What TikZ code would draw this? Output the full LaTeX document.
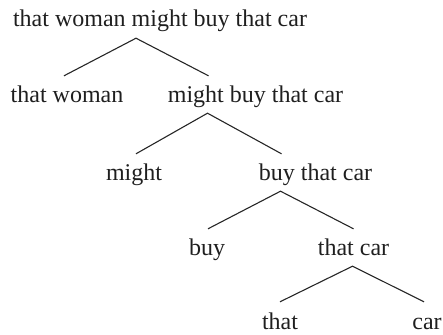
\documentclass[tikz,border=0pt]{standalone}
\usepackage{fontspec}
\setmainfont{Liberation Serif}
\begin{document}
\begin{tikzpicture}[x=1pt,y=-1pt,
  word/.style={anchor=base, inner sep=0pt,
    text height=17pt, text depth=0pt, text=black!88,
    font=\fontsize{24}{28}\selectfont},
  branch/.style={line width=1.1pt, draw=black!85}]
\useasboundingbox (0,0) rectangle (443,334);

% phrase nodes, one row per level
\node[word] (s)    at (160,27)  {that woman might buy that car};
\node[word] (np1)  at (67,102)  {that woman};
\node[word] (vp1)  at (255.5,102) {might buy that car};
\node[word] (aux)  at (134,180) {might};
\node[word] (vp2)  at (315.5,180) {buy that car};
\node[word] (v)    at (207,255) {buy};
\node[word] (np2)  at (353.5,255) {that car};
\node[word] (det)  at (280,329.5) {that};
\node[word] (n)    at (427,329.5) {car};

% branches: apex 11pt below the parent's baseline, ends 9pt above the children
\draw[branch] ([shift={(-3pt,9pt)}]np1.north) -- ([shift={(-24pt,-11pt)}]s.south) -- ([shift={(-47pt,9pt)}]vp1.north);
\draw[branch] ([shift={(2pt,9pt)}]aux.north) -- ([shift={(-48pt,-11pt)}]vp1.south) -- ([shift={(-34pt,9pt)}]vp2.north);
\draw[branch] ([shift={(1pt,9pt)}]v.north) -- ([shift={(-35pt,-11pt)}]vp2.south) -- ([shift={(0pt,9pt)}]np2.north);
\draw[branch] ([shift={(0pt,10.5pt)}]det.north) -- ([shift={(-1pt,-11pt)}]np2.south) -- ([shift={(-3pt,10.5pt)}]n.north);
\end{tikzpicture}
\end{document}
